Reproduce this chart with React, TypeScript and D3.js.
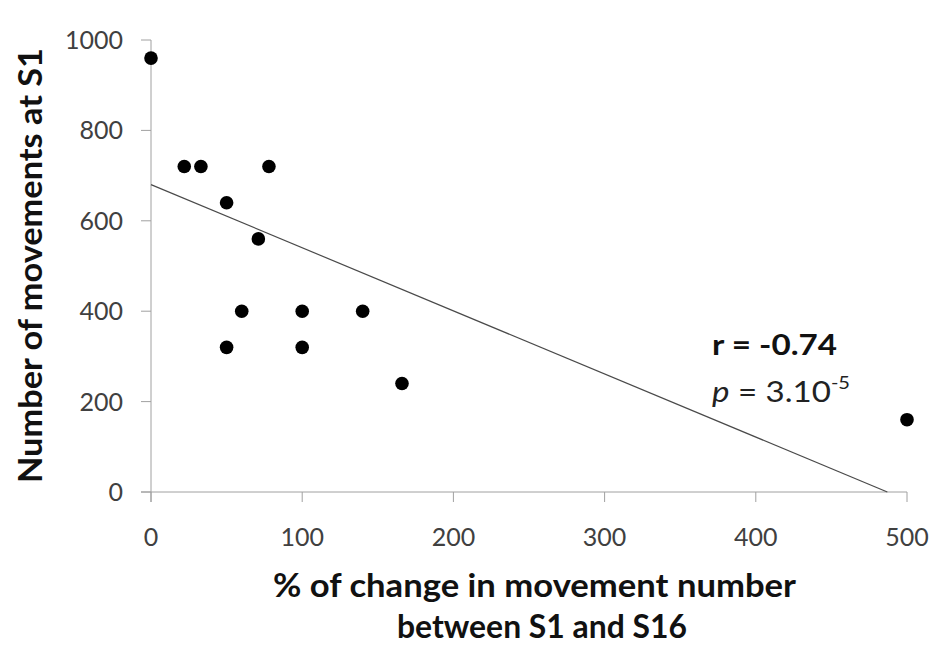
import React from "react";
import * as d3 from "d3";

const xValues = [0, 22, 33, 78, 50, 71, 60, 100, 140, 50, 100, 166, 500];
const yValues = [960, 720, 720, 720, 640, 560, 400, 400, 400, 320, 320, 240, 160];
const trendX = [0, 487];
const trendY = [680, 0];
const xTicks = [0, 100, 200, 300, 400, 500];
const yTicks = [0, 200, 400, 600, 800, 1000];

const W = 932;
const H = 645;
const FONT = "Lato, 'Open Sans', sans-serif";

export default function App() {
  const x = d3.scaleLinear().domain([0, 500]).range([151, 907]);
  const y = d3.scaleLinear().domain([0, 1000]).range([492, 40]);
  const line = d3
    .line<number>()
    .x((_, i) => x(trendX[i]))
    .y((d) => y(d));

  return (
    <svg
      width={W}
      height={H}
      style={{ position: "absolute", left: 0, top: 0, background: "#fff" }}
      fontFamily={FONT}
    >
      <rect width={W} height={H} fill="#fff" />
      {/* axes */}
      <line x1={x(0)} x2={x(0)} y1={y(1000)} y2={y(0) + 10} stroke="#a0a0a0" strokeWidth={1} />
      <line x1={x(0) - 10} x2={x(500)} y1={y(0)} y2={y(0)} stroke="#a0a0a0" strokeWidth={1} />
      {yTicks.map((t) => (
        <g key={"y" + t}>
          <line x1={x(0) - 10} x2={x(0)} y1={y(t)} y2={y(t)} stroke="#a0a0a0" />
          <text x={123} y={y(t)} dy="0.36em" textAnchor="end" fontSize={25} fill="#404040">
            {t}
          </text>
        </g>
      ))}
      {xTicks.map((t) => (
        <g key={"x" + t}>
          <line x1={x(t)} x2={x(t)} y1={y(0)} y2={y(0) + 10} stroke="#a0a0a0" />
          <text x={x(t)} y={546} textAnchor="middle" fontSize={25} fill="#404040">
            {t}
          </text>
        </g>
      ))}
      {/* trend line */}
      <path d={line(trendY) || ""} fill="none" stroke="#4a4a4a" strokeWidth={1.2} />
      {/* points */}
      {xValues.map((v, i) => (
        <circle key={i} cx={x(v)} cy={y(yValues[i])} r={6.8} fill="#000" />
      ))}
      {/* annotation */}
      <text x={712} y={355} fontSize={28} fontWeight="bold" fill="#111" textLength={125} lengthAdjust="spacingAndGlyphs">
        r = -0.74
      </text>
      <text x={712} y={402} fontSize={28} fill="#222" textLength={138} lengthAdjust="spacingAndGlyphs">
        <tspan fontStyle="italic">p</tspan>
        <tspan> = 3.10</tspan>
        <tspan dy={-13} fontSize={17}>-5</tspan>
      </text>
      {/* axis titles */}
      <text
        transform={`translate(42,265.5) rotate(-90)`}
        textAnchor="middle"
        fontSize={32}
        fontWeight="bold"
        fill="#111"
        textLength={435}
        lengthAdjust="spacingAndGlyphs"
      >
        Number of movements at S1
      </text>
      <text x={534.5} y={597} textAnchor="middle" fontSize={32} fontWeight="bold" fill="#111" textLength={523} lengthAdjust="spacingAndGlyphs">
        % of change in movement number
      </text>
      <text x={542} y={638} textAnchor="middle" fontSize={32} fontWeight="bold" fill="#111" textLength={290} lengthAdjust="spacingAndGlyphs">
        between S1 and S16
      </text>
    </svg>
  );
}
